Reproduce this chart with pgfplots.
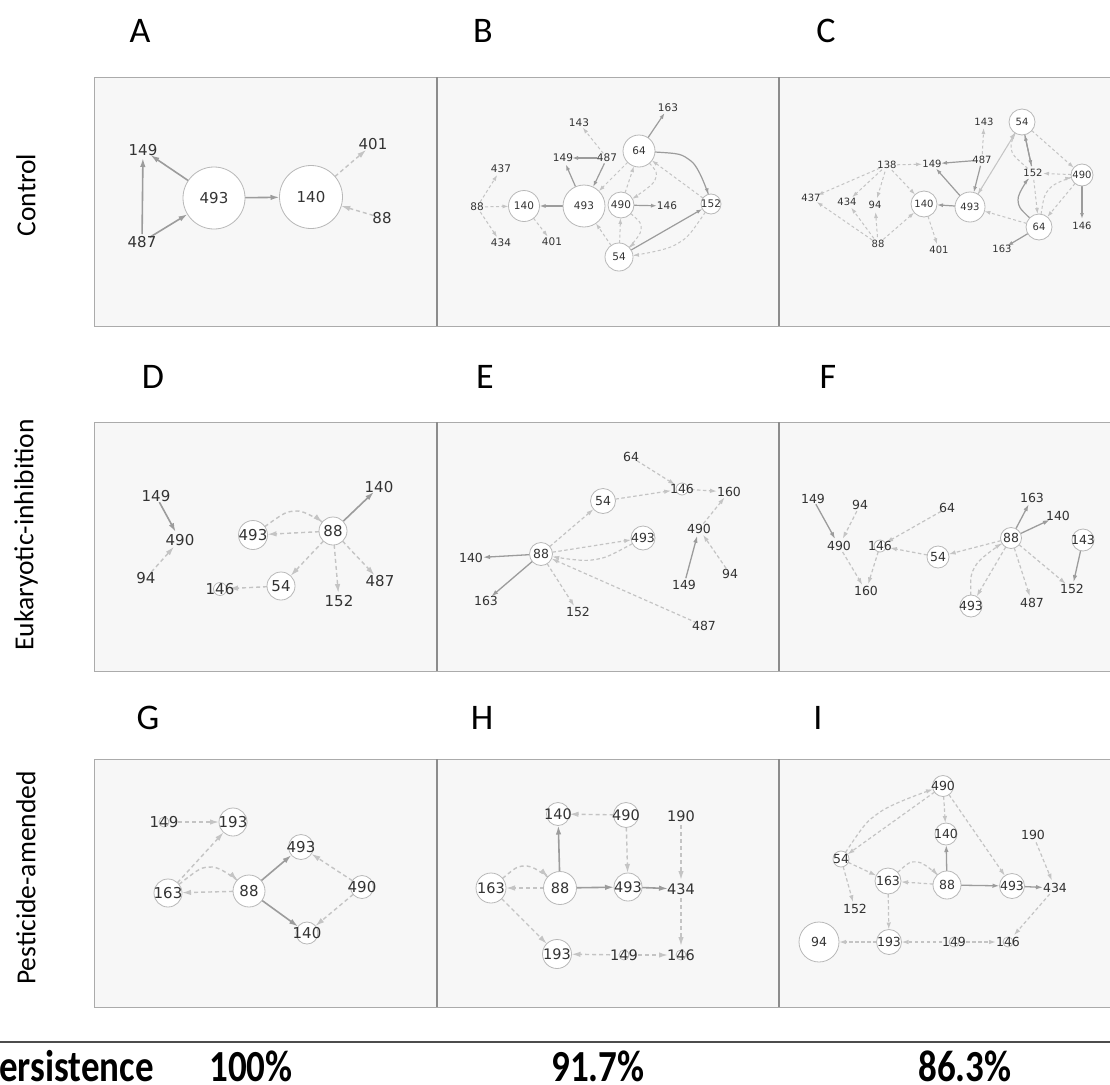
\documentclass[border=0pt]{standalone}
\usepackage{pgfplots}
\pgfplotsset{compat=1.18}
\usepackage{fontspec}
\setmainfont{Carlito}
\newfontfamily\djv{DejaVu Sans}
\usetikzlibrary{arrows.meta}
\definecolor{bgc}{HTML}{F7F7F7}
\definecolor{bordc}{HTML}{ABABAB}
\definecolor{sepc}{HTML}{8C8C8C}
\definecolor{circc}{HTML}{B8B8B8}
\definecolor{solc}{HTML}{9C9C9C}
\definecolor{dashc}{HTML}{C4C4C4}
\definecolor{labc}{HTML}{333333}
\pgfplotsset{
  labs/.style={only marks, mark=none, nodes near coords, point meta=explicit symbolic,
    every node near coord/.append style={anchor=center, inner sep=0pt, text=labc, font=\djv\fontsize{#1}{#1}\selectfont}},
  circs/.style={scatter, only marks, mark=*, scatter/use mapped color={draw=circc, fill=white},
    visualization depends on={\thisrow{r}\as\rr},
    scatter/@pre marker code/.append style={/tikz/mark size=\rr},
    mark options={line width=0.8pt}},
  panel/.style={fill=bgc, draw=bordc, line width=1pt, mark=none},
  seL/.style={draw=solc, line width=1.6pt, mark=none, -{Latex[length=9pt,width=5.5pt]}},
  deL/.style={draw=dashc, line width=1.4pt, mark=none, dash pattern=on 4pt off 3pt, -{Latex[length=9pt,width=5.5pt]}},
  seM/.style={draw=solc, line width=1.3pt, mark=none, -{Latex[length=7pt,width=4.5pt]}},
  deM/.style={draw=dashc, line width=1.2pt, mark=none, dash pattern=on 3.5pt off 2.5pt, -{Latex[length=7pt,width=4.5pt]}},
  seS/.style={draw=solc, line width=1.2pt, mark=none, -{Latex[length=6pt,width=4pt]}},
  deS/.style={draw=dashc, line width=1.0pt, mark=none, dash pattern=on 3pt off 2.5pt, -{Latex[length=6pt,width=4pt]}},
}
\newcommand{\ed}[7]{\addplot[#1, shorten <=#4pt, shorten >=#7pt] coordinates {(#2,#3) (#5,#6)};}
\newcommand{\cv}[9]{\addplot[#1, smooth, shorten <=#4pt, shorten >=#9pt] coordinates {(#2,#3) (#5,#6) (#7,#8)};}
\newcommand{\bt}[1]{\scalebox{1}[1.2]{\bfseries\fontsize{37}{37}\selectfont #1}}
\begin{document}
\begin{tikzpicture}
\begin{scope}
\clip (0,0) rectangle (1110pt,1084pt);
\begin{axis}[at={(0,0)}, anchor=south west, width=1110pt, height=1084pt, scale only axis,
  xmin=0, xmax=1110, ymin=0, ymax=1084, y dir=reverse, axis lines=none, clip=false]

% ---------- panels ----------
\addplot[panel] coordinates {(94,77)(437,77)(437,326)(94,326)(94,77)(437,77)};
\addplot[panel] coordinates {(437,77)(779,77)(779,326)(437,326)(437,77)(779,77)};
\addplot[panel] coordinates {(779,77)(1120,77)(1120,326)(779,326)(779,77)(1120,77)};
\addplot[panel] coordinates {(94,422)(437,422)(437,671)(94,671)(94,422)(437,422)};
\addplot[panel] coordinates {(437,422)(779,422)(779,671)(437,671)(437,422)(779,422)};
\addplot[panel] coordinates {(779,422)(1120,422)(1120,671)(779,671)(779,422)(1120,422)};
\addplot[panel] coordinates {(94,759)(437,759)(437,1007)(94,1007)(94,759)(437,759)};
\addplot[panel] coordinates {(437,759)(779,759)(779,1007)(437,1007)(437,759)(779,759)};
\addplot[panel] coordinates {(779,759)(1120,759)(1120,1007)(779,1007)(779,759)(1120,759)};
\addplot[draw=sepc, line width=1.6pt, mark=none] coordinates {(437,77)(437,326)};
\addplot[draw=sepc, line width=1.6pt, mark=none] coordinates {(779,77)(779,326)};
\addplot[draw=sepc, line width=1.6pt, mark=none] coordinates {(437,422)(437,671)};
\addplot[draw=sepc, line width=1.6pt, mark=none] coordinates {(779,422)(779,671)};
\addplot[draw=sepc, line width=1.6pt, mark=none] coordinates {(437,759)(437,1007)};
\addplot[draw=sepc, line width=1.6pt, mark=none] coordinates {(779,759)(779,1007)};
\addplot[draw=black!70, line width=1.8pt, mark=none] coordinates {(0,1042)(1110,1042)};

% ---------- A ----------
\ed{seL}{214}{198}{31}{143}{150}{9}
\ed{seL}{142}{242}{8}{143}{150}{8}
\ed{seL}{142}{242}{9}{214}{198}{31}
\ed{seL}{214}{198}{31}{311}{197}{31.5}
\ed{deL}{311}{197}{31.5}{373}{144}{9}
\ed{deL}{382}{218}{9}{311}{197}{31.5}
\addplot[circs] table {
x y r
214 198 31
311 197 31.5
};
\addplot[labs=15] table[meta=l] {
x y l
214 198 493
311 197 140
143 150 149
142 242 487
373 144 401
382 218 88
};

% ---------- B ----------
\ed{deS}{477}{207}{6}{501}{169}{7}
\ed{deS}{477}{207}{8}{524}{206}{15.5}
\ed{deS}{477}{207}{6}{501}{243}{7}
\ed{deS}{524}{206}{15.5}{552}{242}{7}
\ed{seS}{584}{206}{21}{524}{206}{15.5}
\ed{seS}{584}{206}{21}{563}{158}{7}
\ed{seS}{607}{158}{10}{563}{158}{9}
\ed{seS}{607}{158}{6}{584}{206}{21}
\ed{deS}{607}{158}{6}{579}{123}{6}
\ed{seS}{639}{151}{16}{668}{108}{6}
\ed{deS}{639}{151}{16}{584}{206}{21}
\cv{seS}{639}{151}{16}{691}{161}{711}{204}{10}
\ed{deS}{711}{204}{10}{639}{151}{16}
\ed{deS}{621}{205}{13}{639}{151}{16}
\cv{deS}{639}{151}{16}{655}{180}{621}{205}{13}
\ed{seS}{621}{205}{13}{667}{206}{10}
\ed{deS}{619}{257}{14}{621}{205}{13}
\cv{deS}{621}{205}{13}{641}{230}{619}{257}{14}
\ed{deS}{619}{257}{14}{584}{206}{21}
\ed{seS}{619}{257}{14}{711}{204}{10}
\cv{deS}{711}{204}{10}{675}{245}{619}{257}{14}
\addplot[circs] table {
x y r
639 151 16
584 206 21
524 206 15.5
621 205 13
711 204 10
619 257 14
};
\addplot[labs=10.5] table[meta=l] {
x y l
639 151 64
584 206 493
524 206 140
621 205 490
711 204 152
619 257 54
667 206 146
668 108 163
579 123 143
563 158 149
607 158 487
501 169 437
477 207 88
501 243 434
552 242 401
};

% ---------- C ----------
\ed{deS}{887}{165}{8}{811}{198}{7}
\ed{deS}{878}{244}{7}{811}{198}{7}
\ed{deS}{887}{165}{7}{847}{202}{7}
\ed{deS}{878}{244}{7}{847}{202}{7}
\ed{deS}{887}{165}{7}{875}{205}{7}
\ed{deS}{878}{244}{7}{875}{205}{7}
\ed{deS}{887}{165}{7}{924}{204}{13}
\ed{deS}{878}{244}{7}{924}{204}{13}
\ed{deS}{887}{165}{10}{932}{164}{10}
\ed{seS}{982}{160}{9}{932}{164}{9}
\ed{seS}{970}{207}{15}{932}{164}{6}
\ed{seS}{982}{160}{6}{970}{207}{15}
\ed{deS}{982}{160}{6}{984}{122}{6}
\ed{seS}{970}{207}{15}{924}{204}{13}
\ed{deS}{924}{204}{13}{939}{250}{6}
\ed{deS}{970}{207}{15}{1022}{122}{13}
\ed{deS}{1022}{122}{13}{970}{207}{15}
\ed{seS}{1022}{122}{13}{1033}{173}{7}
\ed{seS}{1033}{173}{7}{1022}{122}{13}
\cv{deS}{1033}{173}{7}{1011}{148}{1022}{122}{13}
\ed{deS}{1022}{122}{13}{1082}{175}{11}
\ed{deS}{1082}{175}{11}{1033}{173}{10}
\ed{deS}{1033}{173}{7}{1039}{227}{13}
\cv{seS}{1039}{227}{13}{1018}{200}{1033}{173}{7}
\cv{deS}{1039}{227}{13}{1050}{188}{1082}{175}{11}
\ed{deS}{1082}{175}{11}{1039}{227}{13}
\ed{seS}{1082}{175}{11}{1082}{226}{7}
\ed{deS}{1039}{227}{13}{970}{207}{15}
\ed{seS}{1039}{227}{13}{1002}{249}{6}
\addplot[circs] table {
x y r
1022 122 13
1082 175 11
1039 227 13
970 207 15
924 204 13
};
\addplot[labs=10] table[meta=l] {
x y l
1022 122 54
1082 175 490
1039 227 64
970 207 493
924 204 140
1033 173 152
984 122 143
982 160 487
932 164 149
887 165 138
811 198 437
847 202 434
875 205 94
878 244 88
939 250 401
1002 249 163
1082 226 146
};

% ---------- D ----------
\ed{seL}{156}{496}{7}{180}{540}{9}
\ed{deL}{146}{578}{8}{180}{540}{9}
\ed{seL}{333}{531}{14}{379}{487}{7}
\cv{deL}{253}{535}{14.5}{297}{511}{333}{531}{14}
\ed{deL}{333}{531}{14}{253}{535}{14.5}
\ed{deL}{333}{531}{14}{281}{586}{14}
\ed{deL}{333}{531}{14}{339}{601}{8}
\ed{deL}{333}{531}{14}{380}{581}{8}
\ed{deL}{281}{586}{14}{220}{589}{9}
\addplot[circs] table {
x y r
333 531 14
253 535 14.5
281 586 14
220 589 6.5
};
\addplot[labs=15] table[meta=l] {
x y l
333 531 88
253 535 493
281 586 54
220 589 146
156 496 149
180 540 490
146 578 94
379 487 140
380 581 487
339 601 152
};

% ---------- E ----------
\ed{seM}{541}{554}{11.5}{471}{558}{12}
\ed{seM}{541}{554}{11.5}{486}{601}{7}
\ed{deM}{541}{554}{11.5}{578}{612}{7}
\ed{deM}{704}{626}{8}{541}{554}{11.5}
\ed{deM}{541}{554}{11.5}{603}{501}{12.5}
\ed{deM}{541}{554}{11.5}{643}{538}{12}
\cv{deM}{643}{538}{12}{592}{560}{541}{554}{11.5}
\ed{deM}{603}{501}{12.5}{682}{489}{11}
\ed{deM}{631}{457}{7}{682}{489}{8}
\ed{deM}{682}{489}{9}{729}{492}{12}
\ed{deM}{699}{529}{7}{729}{492}{7}
\ed{seM}{684}{585}{7}{699}{529}{7}
\ed{deM}{730}{574}{7}{699}{529}{7}
\addplot[circs] table {
x y r
541 554 11.5
603 501 12.5
643 538 12
682 489 6
};
\addplot[labs=12.5] table[meta=l] {
x y l
541 554 88
603 501 54
643 538 493
682 489 146
631 457 64
729 492 160
699 529 490
730 574 94
684 585 149
704 626 487
471 558 140
486 601 163
578 612 152
};

% ---------- F ----------
\ed{seM}{813}{499}{6}{839}{546}{8}
\ed{deM}{860}{505}{7}{839}{546}{8}
\ed{deM}{839}{546}{7}{866}{591}{7}
\ed{deM}{880}{546}{6}{866}{591}{7}
\ed{deM}{947}{508}{7}{880}{546}{7}
\ed{deM}{938}{557}{11}{880}{546}{10}
\ed{deM}{1011}{538}{10.5}{938}{557}{11}
\ed{seM}{1011}{538}{10.5}{1032}{498}{7}
\ed{seM}{1011}{538}{10.5}{1058}{516}{9}
\ed{deM}{1011}{538}{10.5}{971}{606}{11}
\cv{deM}{971}{606}{11}{976}{565}{1011}{538}{10.5}
\ed{deM}{1011}{538}{10.5}{1032}{603}{7}
\ed{deM}{1011}{538}{10.5}{1072}{589}{8}
\ed{seM}{1083}{540}{11}{1072}{589}{7}
\addplot[circs] table {
x y r
1011 538 10.5
938 557 11
971 606 11
1083 540 11
880 546 6
};
\addplot[labs=12.5] table[meta=l] {
x y l
1011 538 88
938 557 54
971 606 493
1083 540 143
880 546 146
813 499 149
860 505 94
947 508 64
839 546 490
866 591 160
1032 498 163
1058 516 140
1032 603 487
1072 589 152
};

% ---------- G ----------
\ed{deL}{164}{822}{14}{233}{822}{14}
\ed{deL}{168}{893}{14}{233}{822}{14}
\cv{deL}{168}{893}{14}{212}{867}{249}{891}{16}
\ed{deL}{249}{891}{16}{168}{893}{14}
\ed{seL}{249}{891}{16}{301}{847}{12.5}
\ed{seL}{249}{891}{16}{307}{933}{11}
\ed{deL}{362}{887}{11.5}{301}{847}{12.5}
\ed{deL}{362}{887}{11.5}{307}{933}{11}
\addplot[circs] table {
x y r
233 822 14
168 893 14
249 891 16
301 847 12.5
362 887 11.5
307 933 11
164 822 5
};
\addplot[labs=15] table[meta=l] {
x y l
233 822 193
168 893 163
249 891 88
301 847 493
362 887 490
307 933 140
164 822 149
};

% ---------- H ----------
\ed{deL}{626}{815}{12.5}{558}{814}{11.5}
\ed{seL}{560}{888}{16.5}{558}{814}{11.5}
\ed{deL}{626}{815}{12.5}{628}{887}{14}
\ed{deL}{681}{816}{9}{681}{889}{9}
\cv{deL}{491}{888}{15}{527}{866}{560}{888}{16.5}
\ed{deL}{560}{888}{16.5}{491}{888}{15}
\ed{seL}{560}{888}{16.5}{628}{887}{14}
\ed{seL}{628}{887}{14}{681}{889}{13}
\ed{deL}{681}{889}{9}{681}{955}{9}
\ed{deL}{491}{888}{15}{557}{954}{14.5}
\ed{deL}{624}{955}{14}{557}{954}{14.5}
\ed{deL}{624}{955}{14}{681}{955}{13}
\addplot[circs] table {
x y r
558 814 11.5
626 815 12.5
491 888 15
560 888 16.5
628 887 14
557 954 14.5
624 955 5
681 955 5
};
\addplot[labs=14.5] table[meta=l] {
x y l
558 814 140
626 815 490
491 888 163
560 888 88
628 887 493
557 954 193
624 955 149
681 955 146
681 816 190
681 889 434
};

% ---------- I ----------
\cv{deM}{841}{859}{8}{880}{812}{943}{786}{10.5}
\ed{deM}{943}{786}{10.5}{841}{859}{8}
\ed{deM}{943}{786}{10.5}{946}{834}{11}
\ed{deM}{943}{786}{10.5}{1012}{886}{12.5}
\ed{seM}{947}{885}{14}{946}{834}{11}
\ed{deM}{841}{859}{8}{888}{881}{13}
\ed{deM}{841}{859}{8}{855}{909}{7}
\cv{deM}{888}{881}{13}{918}{862}{947}{885}{14}
\ed{deM}{947}{885}{14}{888}{881}{13}
\ed{seM}{947}{885}{14}{1012}{886}{12.5}
\ed{seM}{1012}{886}{12.5}{1055}{888}{12}
\ed{deM}{1033}{835}{8}{1055}{888}{8}
\ed{deM}{1055}{888}{8}{1008}{942}{9}
\ed{deM}{888}{881}{13}{889}{942}{12.5}
\ed{deM}{889}{942}{12.5}{819}{942}{20}
\ed{deM}{954}{942}{12}{889}{942}{12.5}
\ed{deM}{954}{942}{12}{1008}{942}{12}
\addplot[circs] table {
x y r
943 786 10.5
946 834 11
841 859 8
888 881 13
947 885 14
1012 886 12.5
819 942 20
889 942 12.5
954 942 5
1008 942 5
};
\addplot[labs=12.5] table[meta=l] {
x y l
943 786 490
946 834 140
841 859 54
888 881 163
947 885 88
1012 886 493
819 942 94
889 942 193
954 942 149
1008 942 146
1033 835 190
1055 888 434
855 909 152
};

% ---------- texts ----------
\node[font=\fontsize{36}{36}\selectfont] at (axis cs:140,31) {A};
\node[font=\fontsize{36}{36}\selectfont] at (axis cs:483,31) {B};
\node[font=\fontsize{36}{36}\selectfont] at (axis cs:826,31) {C};
\node[font=\fontsize{36}{36}\selectfont] at (axis cs:153,377) {D};
\node[font=\fontsize{36}{36}\selectfont] at (axis cs:485,377) {E};
\node[font=\fontsize{36}{36}\selectfont] at (axis cs:828,377) {F};
\node[font=\fontsize{36}{36}\selectfont] at (axis cs:148,718) {G};
\node[font=\fontsize{36}{36}\selectfont] at (axis cs:482,718) {H};
\node[font=\fontsize{36}{36}\selectfont] at (axis cs:818,718) {I};
\node[rotate=90, font=\fontsize{27.5}{28}\selectfont] at (axis cs:26,195) {Control};
\node[rotate=90, font=\fontsize{27.5}{28}\selectfont] at (axis cs:26,535) {Eukaryotic-inhibition};
\node[rotate=90, font=\fontsize{27.5}{28}\selectfont] at (axis cs:26,878) {Pesticide-amended};
\node[anchor=base west, inner sep=0pt] at (axis cs:-20,1081) {\bt{Persistence}};
\node[anchor=base, inner sep=0pt] at (axis cs:251,1081) {\bt{100\%}};
\node[anchor=base, inner sep=0pt] at (axis cs:598,1081) {\bt{91.7\%}};
\node[anchor=base, inner sep=0pt] at (axis cs:965,1081) {\bt{86.3\%}};
\end{axis}
\end{scope}
\pgfresetboundingbox
\path[use as bounding box] (0,0) rectangle (1110pt,1084pt);
\end{tikzpicture}
\end{document}
